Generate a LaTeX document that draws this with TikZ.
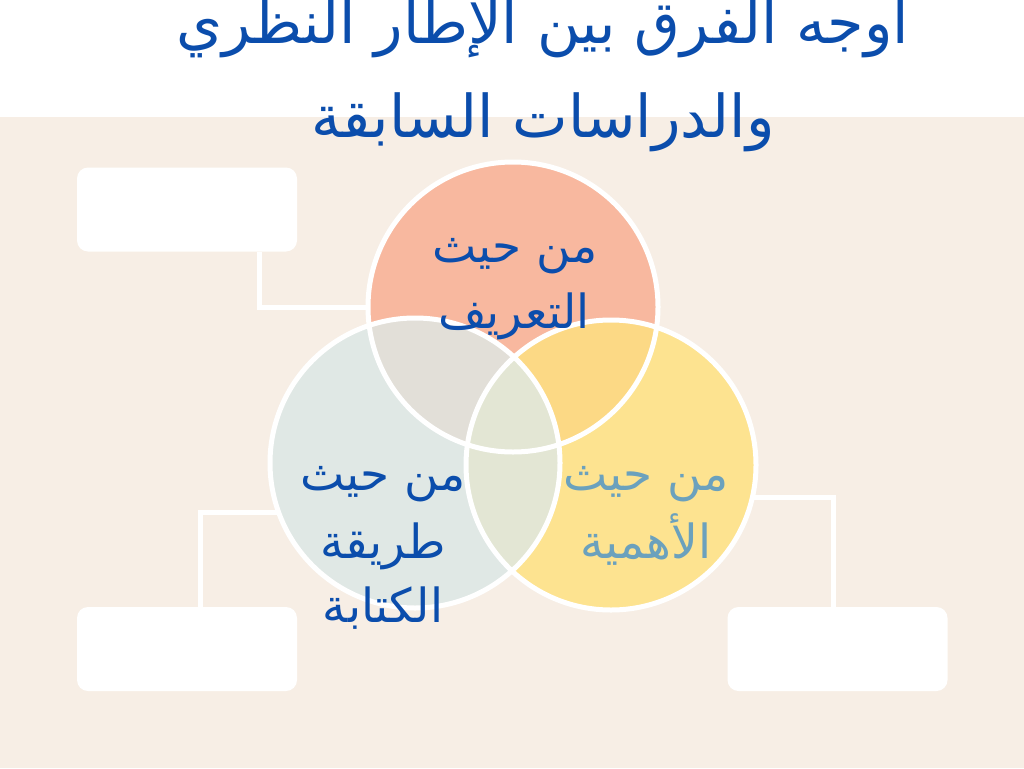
\documentclass[tikz,border=0pt]{standalone}
\usepackage{fontspec}
\newfontfamily\arabicfont[Script=Arabic]{DejaVu Sans}
\TeXXeTstate=1
\usetikzlibrary{calc,positioning}
\definecolor{bgbeige}{HTML}{F7EEE5}
\definecolor{inkblue}{HTML}{0B4DAC}
\definecolor{steelink}{HTML}{6BA1BD}
\definecolor{salmon}{HTML}{F8B89F}
\definecolor{mist}{HTML}{E0E8E5}
\definecolor{butter}{HTML}{FDE390}
\definecolor{salmonmist}{HTML}{E2DFD8}
\definecolor{salmonbutter}{HTML}{FCD985}
\definecolor{mistbutter}{HTML}{E3E6D4}
\tikzset{
  venn/.style={circle, minimum size=290pt, inner sep=0pt},
  rim/.style={draw=white, line width=5pt},
  notebox/.style={fill=white, rounded corners=11pt, minimum width=220pt, minimum height=84pt, inner sep=0pt},
  link/.style={draw=white, line width=5pt},
  ttl/.style={font=\arabicfont\fontsize{59}{90}\selectfont, text=inkblue, inner sep=0pt, anchor=base},
  vlbl/.style={font=\arabicfont\fontsize{47}{66}\selectfont, text=inkblue, inner sep=0pt, anchor=base},
}

\begin{document}
\begin{tikzpicture}[x=1pt, y=-1pt]
  \useasboundingbox (0,0) rectangle (1024,768);
  \fill[white] (0,0) rectangle (1024,117);
  \fill[bgbeige] (0,117) rectangle (1024,768);

  % title
  \node[ttl] (ttlA) at (543,44) {\beginR اوجه الفرق بين الإطار النظري\endR};
  \node[ttl] (ttlB) at (543,137) {\beginR والدراسات السابقة\endR};

  % boxes
  \node[notebox] (defbox) at (187,209.5) {};
  \node[notebox] (wrtbox) at (187,649) {};
  \node[notebox] (impbox) at (837.5,649) {};

  % circles
  \node[venn, fill=salmon] (def) at (513,307) {};
  \node[venn, fill=mist] (wrt) at (415,463) {};
  \node[venn, fill=butter] (imp) at (611,465) {};

  % overlaps
  \begin{scope}
    \clip (def.center) circle (145);
    \fill[salmonmist] (wrt.center) circle (145);
    \fill[salmonbutter] (imp.center) circle (145);
  \end{scope}
  \begin{scope}
    \clip (wrt.center) circle (145);
    \fill[mistbutter] (imp.center) circle (145);
  \end{scope}

  \draw[rim] (def.center) circle (145);
  \draw[rim] (wrt.center) circle (145);
  \draw[rim] (imp.center) circle (145);

  % connectors
  \draw[link] ([xshift=72pt]defbox.south) |- (def.west);
  \draw[link] ([xshift=13pt]wrtbox.north) |- (wrt.200);
  \draw[link] ([xshift=-4pt]impbox.north) |- (imp.-13);

  % labels
  \node[vlbl] (defA) at (515,262) {\beginR من حيث\endR};
  \node[vlbl] (defB) at (514,328) {\beginR التعريف\endR};
  \node[vlbl] (wrtA) at (383,490) {\beginR من حيث\endR};
  \node[vlbl] (wrtB) at (383,558) {\beginR طريقة\endR};
  \node[vlbl] (wrtC) at (383,622) {\beginR الكتابة\endR};
  \node[vlbl, text=steelink] (impA) at (646,490) {\beginR من حيث\endR};
  \node[vlbl, text=steelink] (impB) at (646,558) {\beginR الأهمية\endR};
\end{tikzpicture}
\end{document}
